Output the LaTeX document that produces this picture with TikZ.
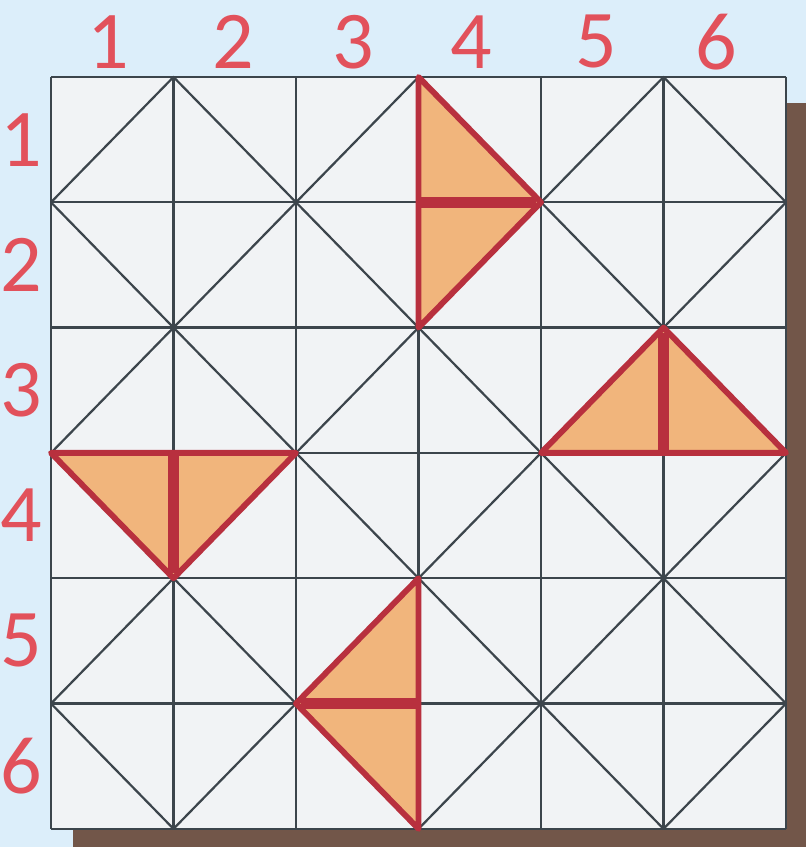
\documentclass[tikz,border=0pt]{standalone}
\usepackage{fontspec}
\setmainfont{Carlito}
\usepackage{xcolor}
\definecolor{skyback}{HTML}{DCEEFA}
\definecolor{cellgrey}{HTML}{F1F3F5}
\definecolor{gridink}{HTML}{3C454C}
\definecolor{shadowbrown}{HTML}{725649}
\definecolor{tangerine}{HTML}{F1B57C}
\definecolor{pieceRed}{HTML}{B8303E}
\definecolor{numRed}{HTML}{E2515B}

\tikzset{
  gridline/.style={gridink,line width=1.9pt},
  piecefill/.style={fill=tangerine},
  pieceedge/.style={pieceRed,line width=5pt,line join=round},
  piecesplit/.style={pieceRed,line width=9pt},
  numlabel/.style={numRed,font=\fontsize{70}{70}\selectfont,inner sep=0pt}
}

\begin{document}
\begin{tikzpicture}[x=0.03cm,y=-0.03cm]
\useasboundingbox (0,0) rectangle (806,847);
\fill[skyback] (0,0) rectangle (806,847);
\fill[shadowbrown] (73,103) rectangle (806,847);

\begin{scope}[shift={(51,77)},x=3.675cm,y=-3.759cm]
% board
\fill[cellgrey] (0,0) rectangle (6,6);
\foreach \k in {0,...,6}{
  \draw[gridline] (\k,0) -- (\k,6);
  \draw[gridline] (0,\k) -- (6,\k);
}
% diamonds in every 2x2 block
\foreach \bx in {0,2,4}{
  \foreach \by in {0,2,4}{
    \draw[gridline,line join=round] (\bx+1,\by) -- (\bx+2,\by+1) -- (\bx+1,\by+2) -- (\bx,\by+1) -- cycle;
  }
}

% the four pieces
\fill[piecefill] (3,0) -- (4,1) -- (3,2) -- cycle;
\draw[pieceedge] (3,0) -- (4,1) -- (3,2) -- cycle;
\draw[piecesplit] (3,1) -- (3.96,1);

\fill[piecefill] (4,3) -- (5,2) -- (6,3) -- cycle;
\draw[pieceedge] (4,3) -- (5,2) -- (6,3) -- cycle;
\draw[piecesplit] (5,2.04) -- (5,3);

\fill[piecefill] (0,3) -- (2,3) -- (1,4) -- cycle;
\draw[pieceedge] (0,3) -- (2,3) -- (1,4) -- cycle;
\draw[piecesplit] (1,3) -- (1,3.96);

\fill[piecefill] (3,4) -- (2,5) -- (3,6) -- cycle;
\draw[pieceedge] (3,4) -- (2,5) -- (3,6) -- cycle;
\draw[piecesplit] (2.04,5) -- (3,5);

% numbers
\foreach \i/\cx in {1/0.47,2/1.49,3/2.47,4/3.43,5/4.45,6/5.43}{
  \node[numlabel] (colnum-\i) at (\cx,-0.28) {\i};
  \node[numlabel] (rownum-\i) at (-0.24,\i-0.5) {\i};
}
\end{scope}
\end{tikzpicture}
\end{document}
